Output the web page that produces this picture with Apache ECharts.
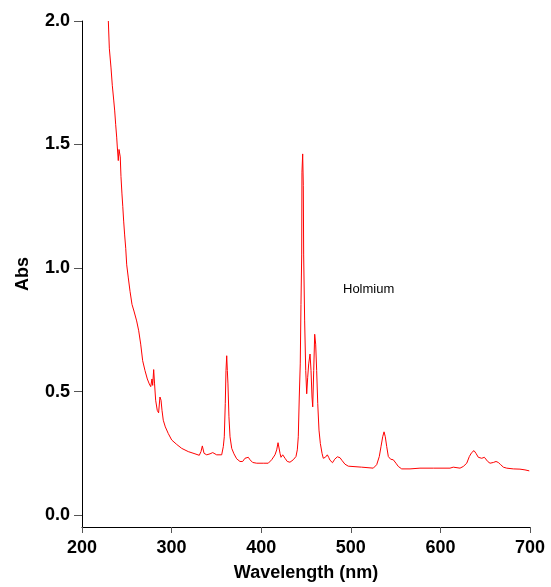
<!DOCTYPE html>
<html>
<head>
<meta charset="utf-8">
<script src="https://cdn.jsdelivr.net/npm/echarts@6/dist/echarts.min.js"></script>
<style>html,body{margin:0;padding:0;background:#fff;}#c{width:551px;height:587px;}</style>
</head>
<body>
<div id="c"></div>
<script>
const wavelength = [229.4,230.5,232.4,233.8,235.4,236.5,237.6,238.7,239.4,240.5,241.3,242.7,243.5,244.6,245.5,246.5,247.6,248.8,249.9,251.7,253.6,255.8,258,261,263.3,265.5,267.7,270.3,272.9,275.1,276.7,278.1,278.9,280,281,282.2,284,285.5,287,288.2,289.3,290.7,293,296.3,300.1,305.7,311.3,318.6,326.1,330.9,332.8,334.3,336.2,339.2,342.9,345.9,347.7,350.3,355.9,357.7,358.8,359.9,360.7,361.5,362.2,362.9,364,365.2,367.1,369.6,372.6,376.3,379.3,381.9,383.8,385.6,387.5,390.5,395,402.3,407.9,411.7,415.4,417.3,418.8,419.9,421,422.1,424,426.6,429.1,432.1,435.8,438.8,440.3,441.4,442.5,443.6,444.4,445.2,445.5,446.3,447,447.4,448.5,449.7,450.8,451.9,453,454.5,455.6,456.7,457.5,458.6,459.7,460.8,461.9,463.1,464.5,466,467.9,469.3,471.6,473.8,475.3,476.8,479.6,482,485,488,490,493.5,497.2,499.1,512.1,525.1,528.9,531.8,533.7,535.6,537.1,538.5,540.1,541.9,544.5,547.4,550.4,553,556.8,566.1,577.2,592.1,610.7,614.4,616.3,621.9,625.6,629.4,632.3,634.9,637.5,639.7,642.3,646.1,649.1,651,652.8,655.4,659.1,662.1,664.6,667.3,670.3,674,681.4,688.8,694.4,699.2];
const absorbance = [2.00,1.89,1.81,1.74,1.68,1.636,1.58,1.53,1.49,1.435,1.48,1.45,1.37,1.30,1.25,1.19,1.134,1.08,1.013,0.96,0.906,0.853,0.826,0.786,0.746,0.692,0.625,0.585,0.551,0.531,0.52,0.551,0.525,0.589,0.531,0.465,0.424,0.414,0.478,0.465,0.424,0.384,0.357,0.33,0.304,0.286,0.27,0.257,0.248,0.242,0.257,0.28,0.25,0.244,0.248,0.253,0.25,0.244,0.244,0.277,0.317,0.451,0.585,0.645,0.585,0.531,0.398,0.317,0.27,0.248,0.228,0.217,0.217,0.23,0.226,0.234,0.224,0.213,0.21,0.21,0.21,0.224,0.244,0.264,0.293,0.29,0.25,0.234,0.244,0.23,0.217,0.214,0.224,0.237,0.264,0.317,0.478,0.612,0.853,1.053,1.388,1.462,1.335,1.053,0.786,0.585,0.491,0.558,0.612,0.652,0.585,0.478,0.438,0.585,0.732,0.692,0.585,0.451,0.344,0.29,0.25,0.23,0.234,0.244,0.234,0.222,0.212,0.226,0.236,0.232,0.222,0.206,0.198,0.197,0.194,0.19,0.204,0.237,0.277,0.317,0.337,0.317,0.277,0.237,0.226,0.224,0.21,0.197,0.187,0.187,0.19,0.19,0.19,0.194,0.19,0.19,0.197,0.21,0.237,0.253,0.261,0.25,0.234,0.23,0.234,0.233,0.217,0.21,0.213,0.217,0.213,0.204,0.194,0.19,0.187,0.186,0.183,0.179];
const yTicks = [0, 0.5, 1.0, 1.5, 2.0];
const xTicks = [200, 300, 400, 500, 600, 700];
const seriesLabel = 'Holmium';

const FONT = '"Liberation Sans", Arial, sans-serif';
const chart = echarts.init(document.getElementById('c'), null, {renderer: 'canvas'});
const data = wavelength.map((w, i) => [w, absorbance[i]]);
chart.setOption({
  animation: false,
  backgroundColor: '#fff',
  grid: {left: 82, right: 21, top: 21, bottom: 56, containLabel: false},
  xAxis: {
    type: 'value', min: 200, max: 700, interval: 100,
    name: 'Wavelength (nm)', nameLocation: 'middle', nameGap: 37,
    nameTextStyle: {fontFamily: FONT, fontWeight: 'bold', fontSize: 18, color: '#000'},
    axisLine: {show: true, onZero: false, lineStyle: {color: '#000', width: 1}},
    axisTick: {show: true, length: 6, lineStyle: {color: '#555'}},
    axisLabel: {margin: 12, fontFamily: FONT, fontWeight: 'bold', fontSize: 18, color: '#000',
      customValues: xTicks},
    splitLine: {show: false}
  },
  yAxis: {
    type: 'value', min: -0.0482, max: 2.0,
    name: 'Abs', nameLocation: 'middle', nameGap: 50, nameRotate: 90,
    nameTextStyle: {fontFamily: FONT, fontWeight: 'bold', fontSize: 18, color: '#000'},
    axisLine: {show: true, onZero: false, lineStyle: {color: '#000', width: 1}},
    axisTick: {show: true, length: 8, lineStyle: {color: '#555'}, customValues: yTicks},
    axisLabel: {margin: 12, fontFamily: FONT, fontWeight: 'bold', fontSize: 18, color: '#000',
      customValues: yTicks, formatter: v => v.toFixed(1)},
    splitLine: {show: false}
  },
  graphic: [{
    type: 'text', left: 343, top: 283,
    style: {text: seriesLabel, font: '13px ' + FONT, fill: '#000'}
  }],
  series: [{
    type: 'line', data: data, symbol: 'none', smooth: false,
    lineStyle: {color: '#ff0000', width: 1}
  }]
});
</script>
</body>
</html>
